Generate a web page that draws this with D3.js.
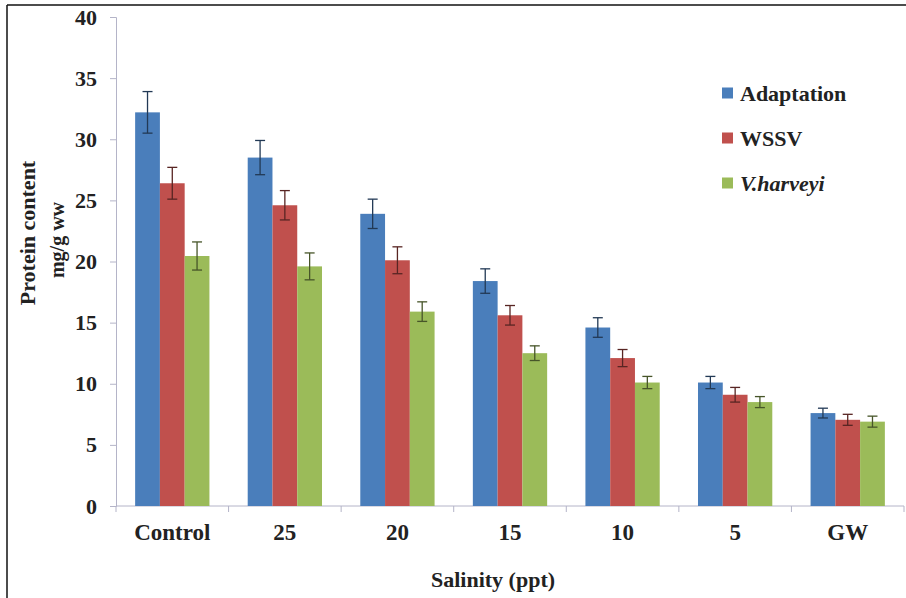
<!DOCTYPE html>
<html>
<head>
<meta charset="utf-8">
<script src="https://cdn.jsdelivr.net/npm/d3@7"></script>
<style>
  body { margin: 0; background: #fff; }
  text { font-family: "Liberation Serif", "Times New Roman", serif; font-weight: bold; fill: #222; }
</style>
</head>
<body>
<div id="chart"></div>
<script>
var categories = ['Control', '25', '20', '15', '10', '5', 'GW'];
var seriesNames = ['Adaptation', 'WSSV', 'V.harveyi'];
var adaptation = [32.2, 28.5, 23.9, 18.4, 14.6, 10.1, 7.6];
var wssv = [26.4, 24.6, 20.1, 15.6, 12.1, 9.1, 7.05];
var harveyi = [20.45, 19.6, 15.9, 12.5, 10.1, 8.5, 6.9];
var adaptationErr = [1.7, 1.4, 1.2, 1.0, 0.8, 0.5, 0.4];
var wssvErr = [1.3, 1.2, 1.1, 0.8, 0.7, 0.6, 0.45];
var harveyiErr = [1.15, 1.1, 0.8, 0.6, 0.5, 0.45, 0.45];
var yTicks = [0, 5, 10, 15, 20, 25, 30, 35, 40];
var colors = ['#4a7ebb', '#c0504d', '#9bbb59'];

var chartWidth = 906;
var chartHeight = 598;
var plotLeft = 116, plotRight = 904, plotTop = 17, plotBottom = 506;
var axisColor = '#b4b4c8';

var values = [adaptation, wssv, harveyi];
var errors = [adaptationErr, wssvErr, harveyiErr];

var svg = d3.select('#chart')
    .append('svg')
    .attr('width', chartWidth)
    .attr('height', chartHeight);

// Frame (top and left only)
svg.append('line')
    .attr('x1', 7).attr('y1', 5).attr('x2', chartWidth).attr('y2', 5)
    .attr('stroke', '#111').attr('stroke-width', 1.5);
svg.append('line')
    .attr('x1', 7).attr('y1', 5).attr('x2', 7).attr('y2', chartHeight)
    .attr('stroke', '#111').attr('stroke-width', 1.5);

// Scales
var scaleX = d3.scaleBand()
    .domain(categories)
    .range([plotLeft, plotRight])
    .paddingInner(0.34)
    .paddingOuter(0.17);

var scaleSeries = d3.scaleBand()
    .domain(d3.range(seriesNames.length))
    .range([0, scaleX.bandwidth()]);

var scaleY = d3.scaleLinear()
    .domain([0, 40])
    .range([plotBottom, plotTop]);

// Y axis
var axisY = d3.axisLeft(scaleY)
    .tickValues(yTicks)
    .tickSize(6)
    .tickPadding(13);

var gy = svg.append('g')
    .attr('class', 'y-axis')
    .attr('transform', 'translate(' + plotLeft + ',0)')
    .call(axisY);
gy.select('.domain').attr('stroke', axisColor);
gy.selectAll('.tick line').attr('stroke', axisColor);
gy.selectAll('.tick text')
    .attr('font-family', null)
    .attr('font-size', null)
    .style('font-size', '22px');

// X axis with ticks between categories
var boundaries = d3.range(categories.length + 1).map(function(i) {
  return plotLeft + i * (plotRight - plotLeft) / categories.length;
});

svg.append('line')
    .attr('x1', plotLeft).attr('x2', plotRight)
    .attr('y1', plotBottom).attr('y2', plotBottom)
    .attr('stroke', axisColor);

svg.append('g').selectAll('line')
    .data(boundaries)
    .enter()
    .append('line')
    .attr('x1', function(d) { return d; })
    .attr('x2', function(d) { return d; })
    .attr('y1', plotBottom)
    .attr('y2', plotBottom + 6)
    .attr('stroke', axisColor);

svg.append('g').selectAll('text')
    .data(categories)
    .enter()
    .append('text')
    .attr('x', function(d) { return scaleX(d) + scaleX.bandwidth() / 2; })
    .attr('y', 540)
    .attr('text-anchor', 'middle')
    .style('font-size', '23px')
    .text(function(d) { return d; });

// Bars
function rowData(d, i) {
  return values.map(function(v, s) { return {s: s, v: v[i], e: errors[s][i]}; });
}

var groups = svg.append('g')
    .selectAll('g')
    .data(categories)
    .enter()
    .append('g')
    .attr('transform', function(d) { return 'translate(' + scaleX(d) + ',0)'; });

groups.selectAll('rect')
    .data(rowData)
    .enter()
    .append('rect')
    .attr('x', function(d) { return scaleSeries(d.s); })
    .attr('y', function(d) { return scaleY(d.v); })
    .attr('width', scaleSeries.bandwidth())
    .attr('height', function(d) { return plotBottom - scaleY(d.v); })
    .attr('fill', function(d) { return colors[d.s]; });

// Error bars
var errs = groups.selectAll('g.err')
    .data(rowData)
    .enter()
    .append('g')
    .attr('class', 'err')
    .attr('stroke', function(d) { return d3.color(colors[d.s]).darker(2.2); })
    .attr('stroke-width', 1.3);

function midX(d) { return scaleSeries(d.s) + scaleSeries.bandwidth() / 2; }

errs.append('line')
    .attr('x1', midX)
    .attr('x2', midX)
    .attr('y1', function(d) { return scaleY(d.v - d.e); })
    .attr('y2', function(d) { return scaleY(d.v + d.e); });

errs.append('line')
    .attr('x1', function(d) { return midX(d) - 5; })
    .attr('x2', function(d) { return midX(d) + 5; })
    .attr('y1', function(d) { return scaleY(d.v + d.e); })
    .attr('y2', function(d) { return scaleY(d.v + d.e); });

errs.append('line')
    .attr('x1', function(d) { return midX(d) - 5; })
    .attr('x2', function(d) { return midX(d) + 5; })
    .attr('y1', function(d) { return scaleY(d.v - d.e); })
    .attr('y2', function(d) { return scaleY(d.v - d.e); });

// Axis titles
svg.append('text')
    .attr('x', 493)
    .attr('y', 587)
    .attr('text-anchor', 'middle')
    .style('font-size', '22px')
    .text('Salinity (ppt)');

svg.append('text')
    .attr('transform', 'translate(35,233) rotate(-90)')
    .attr('text-anchor', 'middle')
    .style('font-size', '22px')
    .text('Protein content');

svg.append('text')
    .attr('transform', 'translate(64,240) rotate(-90)')
    .attr('text-anchor', 'middle')
    .style('font-size', '20px')
    .text('mg/g ww');

// Legend
var legend = svg.append('g')
    .selectAll('g')
    .data(seriesNames)
    .enter()
    .append('g')
    .attr('transform', function(d, i) { return 'translate(722,' + (93 + i * 45) + ')'; });

legend.append('rect')
    .attr('x', 0)
    .attr('y', -5.5)
    .attr('width', 11)
    .attr('height', 11)
    .attr('fill', function(d, i) { return colors[i]; });

legend.append('text')
    .attr('x', 18)
    .attr('y', 8)
    .style('font-size', '22px')
    .style('font-style', function(d, i) { return i === 2 ? 'italic' : 'normal'; })
    .text(function(d) { return d; });
</script>
</body>
</html>
